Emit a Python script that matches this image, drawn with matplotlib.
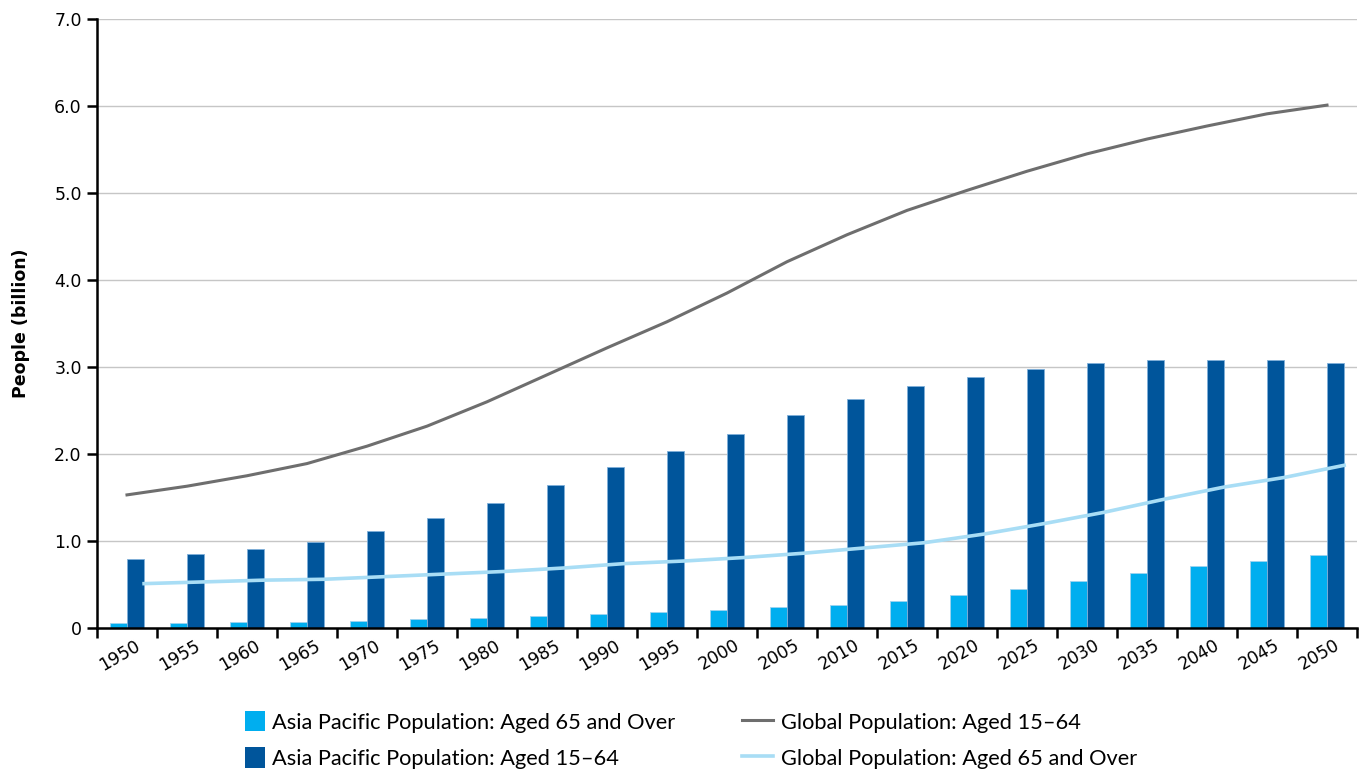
import numpy as np
import matplotlib
matplotlib.use('Agg')
import matplotlib.pyplot as plt
import matplotlib.transforms as mtransforms
from matplotlib.patches import Patch
from matplotlib.lines import Line2D

years = [1950, 1955, 1960, 1965, 1970, 1975, 1980, 1985, 1990, 1995, 2000,
         2005, 2010, 2015, 2020, 2025, 2030, 2035, 2040, 2045, 2050]
# Asia Pacific population (billion)
ap_65 = [0.054, 0.055, 0.065, 0.07, 0.08, 0.10, 0.12, 0.14, 0.16, 0.18, 0.21,
         0.24, 0.27, 0.31, 0.38, 0.45, 0.54, 0.63, 0.71, 0.77, 0.835]
ap_1564 = [0.79, 0.85, 0.91, 0.99, 1.12, 1.26, 1.44, 1.64, 1.85, 2.03, 2.23,
           2.45, 2.63, 2.78, 2.88, 2.98, 3.05, 3.08, 3.08, 3.08, 3.05]
# Global population (billion)
gl_1564 = [1.53, 1.63, 1.75, 1.89, 2.09, 2.32, 2.60, 2.91, 3.22, 3.52, 3.85,
           4.21, 4.52, 4.80, 5.03, 5.25, 5.45, 5.62, 5.77, 5.91, 6.01]
gl_65 = [0.51, 0.53, 0.55, 0.56, 0.59, 0.62, 0.65, 0.69, 0.74, 0.77, 0.81,
         0.86, 0.92, 0.98, 1.08, 1.20, 1.33, 1.48, 1.62, 1.73, 1.87]

c_light = '#00aeef'
c_dark = '#00559b'
c_gray = '#6e6e6e'
c_sky = '#a8ddf5'

fig = plt.figure(figsize=(13.59, 7.71), dpi=100)
ax = fig.add_axes([97 / 1359, 1 - 628 / 771, 1260 / 1359, 609 / 771])

x = np.arange(len(years))
w = 0.285
ax.bar(x - w / 2, ap_65, w, color=c_light, edgecolor='#9fd3f0', linewidth=0.6, zorder=2)
ax.bar(x + w / 2, ap_1564, w, color=c_dark, edgecolor='#7fb0da', linewidth=0.6, zorder=2)
ax.plot(x, gl_1564, color=c_gray, linewidth=2.2, zorder=3)
ax.plot(x + w, gl_65, color=c_sky, linewidth=2.6, zorder=3)

ax.set_xlim(-0.5, len(years) - 0.5)
ax.set_ylim(0, 7)
ax.set_yticks(np.arange(0, 7.1, 1.0))
ax.set_yticklabels(['0'] + ['%.1f' % v for v in np.arange(1, 7.1, 1.0)], fontsize=12.5)
ax.yaxis.grid(True, color='#c6c6c6', linewidth=1.0)
ax.set_axisbelow(True)

ax.set_xticks(x)
ax.set_xticklabels([str(y) for y in years], fontsize=12.5, rotation=30,
                   ha='right', va='top', rotation_mode='anchor')
ax.set_xticks(np.arange(-0.5, len(years), 1.0), minor=True)
ax.tick_params(axis='x', which='major', length=0, pad=6)
ax.tick_params(axis='x', which='minor', length=7, width=1.8, direction='out')
ax.tick_params(axis='y', length=7, width=1.8, direction='out', pad=4)
offset = mtransforms.ScaledTranslation(7 / 100, 0, fig.dpi_scale_trans)
for lab in ax.get_xticklabels():
    lab.set_transform(lab.get_transform() + offset)

for s in ['top', 'right']:
    ax.spines[s].set_visible(False)
ax.spines['left'].set_linewidth(1.8)
ax.spines['bottom'].set_linewidth(1.8)

ax.set_ylabel('People (billion)', fontsize=12.5, fontweight='bold', labelpad=17)

leg_font = {'family': 'Lato', 'size': 15.7}
h1 = [Patch(facecolor=c_light), Patch(facecolor=c_dark)]
l1 = ['Asia Pacific Population: Aged 65 and Over', 'Asia Pacific Population: Aged 15\u201364']
leg1 = fig.legend(h1, l1, loc='upper left', bbox_to_anchor=(245 / 1359, 1 - 711 / 771),
                  frameon=False, prop=leg_font, handlelength=0.92, handleheight=1.05,
                  handletextpad=0.33, labelspacing=0.68, borderpad=0, borderaxespad=0)
h2 = [Line2D([], [], color=c_gray, linewidth=2.2), Line2D([], [], color=c_sky, linewidth=2.6)]
l2 = ['Global Population: Aged 15\u201364', 'Global Population: Aged 65 and Over']
leg2 = fig.legend(h2, l2, loc='upper left', bbox_to_anchor=(742 / 1359, 1 - 711 / 771),
                  frameon=False, prop=leg_font, handlelength=1.4, handleheight=1.05,
                  handletextpad=0.37, labelspacing=0.68, borderpad=0, borderaxespad=0)

fig.savefig('out.png', dpi=100)
